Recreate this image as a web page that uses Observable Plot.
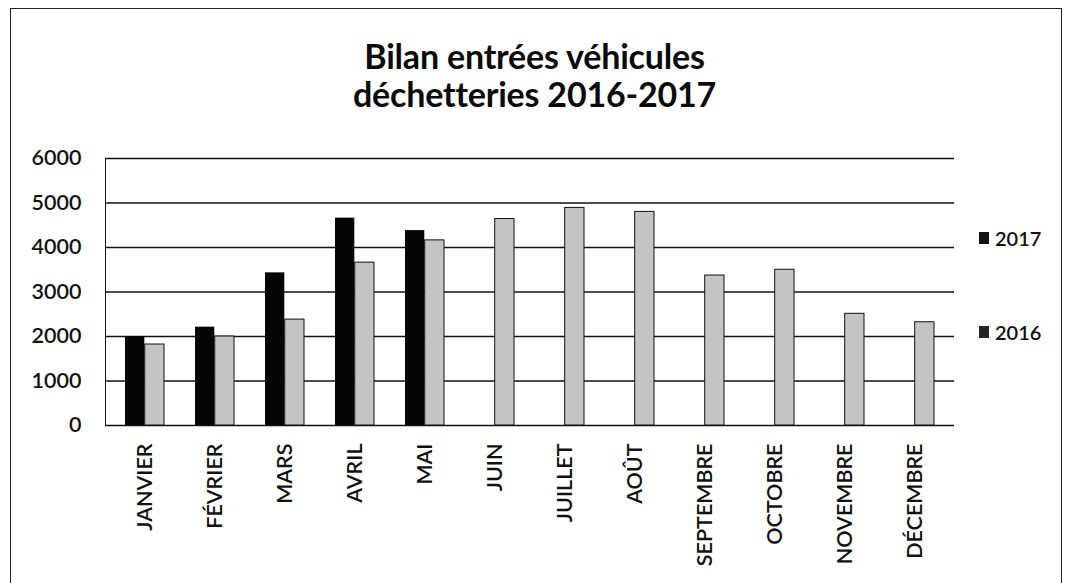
<!DOCTYPE html>
<html>
<head>
<meta charset="utf-8">
<script src="https://cdn.jsdelivr.net/npm/d3@7"></script>
<script src="https://cdn.jsdelivr.net/npm/@observablehq/plot@0.6"></script>
<style>
  html, body { margin: 0; padding: 0; background: #fff; }
  body { width: 1069px; height: 583px; overflow: hidden; position: relative; font-family: Lato, "DejaVu Sans", sans-serif; }
  #border { position: absolute; left: 10px; top: 8px; width: 1052px; height: 620px; border: 1.5px solid #222; box-sizing: border-box; }
  #title { position: absolute; left: 0; top: 0; width: 1069px; height: 130px; text-align: center; font-weight: 700; font-size: 34px; line-height: 38px; padding-top: 37px; box-sizing: border-box; color: #0a0a0a; letter-spacing: -0.2px; }
  #chart { position: absolute; left: 0; top: 130px; }
  .leg { position: absolute; left: 979px; font-size: 20px; font-weight: 600; color: #111; display: flex; align-items: center; }
  .leg span.sw { display: inline-block; width: 10px; height: 12px; margin-right: 6px; }
</style>
</head>
<body>
<div id="border"></div>
<div id="title">Bilan entrées véhicules<br>déchetteries 2016-2017</div>
<div id="chart"></div>
<div class="leg" id="leg2017" style="top:226px"><span class="sw" style="background:#111"></span>2017</div>
<div class="leg" id="leg2016" style="top:320px"><span class="sw" style="background:#222"></span>2016</div>
<script>
const months = ["JANVIER","FÉVRIER","MARS","AVRIL","MAI","JUIN","JUILLET","AOÛT","SEPTEMBRE","OCTOBRE","NOVEMBRE","DÉCEMBRE"];
const values2017 = [1990, 2210, 3430, 4660, 4380, null, null, null, null, null, null, null];
const values2016 = [1820, 2000, 2380, 3660, 4160, 4640, 4890, 4800, 3370, 3500, 2510, 2320];
const yTicks = [0, 1000, 2000, 3000, 4000, 5000, 6000];

const data2017 = months.map((m, i) => ({month: m, value: values2017[i]})).filter(d => d.value != null);
const data2016 = months.map((m, i) => ({month: m, value: values2016[i]}));

const chart = Plot.plot({
  width: 1069,
  height: 453,
  marginTop: 28,
  marginBottom: 158,
  marginLeft: 105,
  marginRight: 115,
  style: {fontFamily: "Lato, sans-serif", fontSize: "21.5px", fontWeight: 600, color: "#111", background: "transparent"},
  x: {domain: months, paddingInner: 0.45, paddingOuter: 0.225, tickSize: 0, tickPadding: 18, tickRotate: -90, label: null},
  y: {domain: [0, 6000], ticks: yTicks, tickSize: 0, tickPadding: 24, label: null, line: true, tickFormat: d => String(d)},
  marks: [
    Plot.ruleY(yTicks, {stroke: "#111", strokeWidth: 1.6}),
    Plot.barY(data2017, {x: "month", y: "value", fill: "#050505", insetRight: 19.7}),
    Plot.barY(data2016, {x: "month", y: "value", fill: "#c4c4c4", stroke: "#111", strokeWidth: 1, insetLeft: 19.7})
  ]
});
document.getElementById("chart").appendChild(chart);
</script>
</body>
</html>
